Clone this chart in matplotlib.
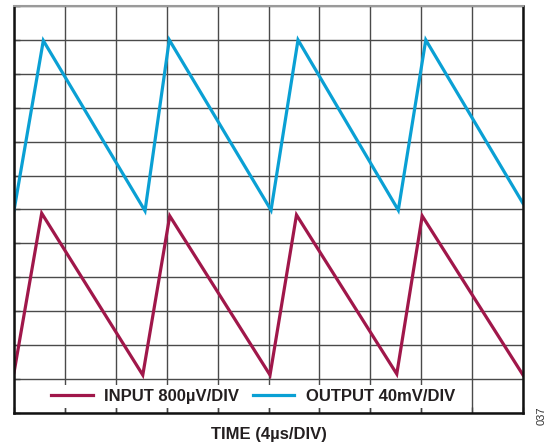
import matplotlib.pyplot as plt

plt.rcParams['font.family'] = ['Liberation Sans', 'DejaVu Sans']

# Time axis in divisions (4 µs/DIV), amplitude in screen divisions
in_t = [0, 0.544, 2.53, 3.06, 5.03, 5.55, 7.52, 8.02, 10.0]
in_v = [1.19, 5.89, 1.12, 5.81, 1.12, 5.84, 1.15, 5.81, 1.12]
out_t = [0, 0.576, 2.574, 3.051, 5.05, 5.58, 7.55, 8.09, 10.0]
out_v = [5.97, 10.98, 5.96, 11.0, 5.98, 11.0, 5.98, 11.0, 6.18]

labels = ['INPUT 800µV/DIV', 'OUTPUT 40mV/DIV']
colors = ['#a0174a', '#0aa0d4']
n_xdiv = 10
n_ydiv = 12

fig = plt.figure(figsize=(5.48, 4.48), dpi=100)
ax = fig.add_axes([14/548, 35/448, 509/548, 407/448])

ax.plot(in_t, in_v, color=colors[0], lw=2.3, label=labels[0], solid_joinstyle='miter')
ax.plot(out_t, out_v, color=colors[1], lw=2.3, label=labels[1], solid_joinstyle='miter')

ax.set_xlim(0, n_xdiv)
ax.set_ylim(0, n_ydiv)
ax.set_xticks(range(n_xdiv + 1))
ax.set_yticks(range(n_ydiv + 1))
ax.tick_params(direction='in', length=4, width=1, color='#444444',
               labelbottom=False, labelleft=False)
ax.grid(True, color='#4a4a4a', lw=1.0)

for s in ['left', 'bottom', 'right']:
    ax.spines[s].set_linewidth(1.8)
    ax.spines[s].set_color('#111111')
ax.spines['top'].set_linewidth(1.5)
ax.spines['top'].set_color('#9a9a9a')

leg = ax.legend(loc='center', bbox_to_anchor=(0.47, 0.04), ncol=2,
                frameon=True, fancybox=False, framealpha=1, edgecolor='none',
                facecolor='white', handlelength=2.5, handletextpad=0.7,
                columnspacing=0.8, borderpad=0.25, borderaxespad=0,
                prop={'weight': 'bold', 'size': 12})
for t in leg.get_texts():
    t.set_color('#231f20')

ax.set_xlabel('TIME (4µs/DIV)', fontsize=12, fontweight='bold', color='#231f20',
              labelpad=10)

fig.text(542/548, 1 - 416/448, '037', rotation=90, fontsize=8, color='#333333',
         ha='center', va='center')

fig.savefig('out.png', dpi=100)
